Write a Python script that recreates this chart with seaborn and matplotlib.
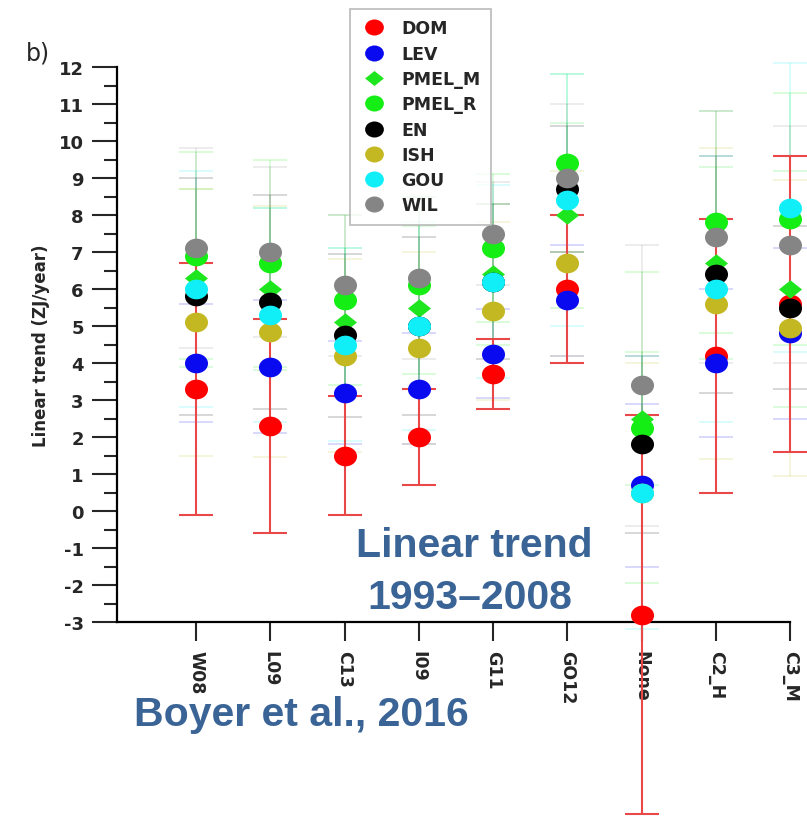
import numpy as np
import pandas as pd
import matplotlib
matplotlib.use("Agg")
import matplotlib.pyplot as plt
import seaborn as sns
from matplotlib.path import Path
from matplotlib.transforms import Affine2D
from matplotlib.lines import Line2D
from matplotlib.ticker import MultipleLocator

categories = ["W08", "L09", "C13", "I09", "G11", "GO12", "None", "C2_H", "C3_M"]
series = ["DOM", "LEV", "PMEL_M", "PMEL_R", "EN", "ISH", "GOU", "WIL"]

dom = [3.3, 2.3, 1.5, 2.0, 3.7, 6.0, -2.8, 4.2, 5.6]
lev = [4.0, 3.9, 3.2, 3.3, 4.25, 5.7, 0.7, 4.0, 4.8]
pmel_m = [6.3, 6.0, 5.1, 5.5, 6.4, 8.0, 2.5, 6.7, 6.0]
pmel_r = [6.9, 6.7, 5.7, 6.1, 7.1, 9.4, 2.25, 7.8, 7.9]
en = [5.8, 5.65, 4.75, 5.0, 6.2, 8.7, 1.8, 6.4, 5.5]
ish = [5.1, 4.85, 4.2, 4.4, 5.4, 6.7, 0.5, 5.6, 4.95]
gou = [6.0, 5.3, 4.5, 5.0, 6.2, 8.4, 0.5, 6.0, 8.2]
wil = [7.1, 7.0, 6.1, 6.3, 7.5, 9.0, 3.4, 7.4, 7.2]

dom_err = [3.4, 2.9, 1.6, 1.3, 0.95, 2.0, 5.4, 3.7, 4.0]
lev_err = [1.6, 1.8, 1.4, 1.5, 1.2, 1.5, 2.2, 2.0, 2.3]
pmel_m_err = [2.4, 2.2, 2.0, 2.2, 1.9, 2.5, 1.8, 2.6, 3.2]
pmel_r_err = [2.8, 2.8, 2.3, 2.4, 2.0, 2.4, 4.2, 3.0, 3.4]
en_err = [3.2, 2.9, 2.2, 2.4, 2.1, 1.7, 2.4, 3.2, 2.2]
ish_err = [3.6, 3.4, 2.6, 2.6, 2.4, 2.5, 3.5, 4.2, 4.0]
gou_err = [3.2, 2.9, 2.6, 2.8, 2.6, 3.4, 3.7, 3.6, 3.9]
wil_err = [2.7, 2.3, 1.9, 2.2, 1.4, 2.0, 3.8, 3.4, 3.2]

values = [dom, lev, pmel_m, pmel_r, en, ish, gou, wil]
errors = [dom_err, lev_err, pmel_m_err, pmel_r_err, en_err, ish_err, gou_err, wil_err]
colors = ["#ff0000", "#0a0af0", "#1ee61e", "#14ee14", "#000000", "#c4b822", "#10eef8", "#858585"]

rows = []
for s, v, e in zip(series, values, errors):
    for i, c in enumerate(categories):
        rows.append({"series": s, "cat": c, "pos": i, "val": v[i], "err": e[i]})
df = pd.DataFrame(rows)

sns.set_style("ticks")
plt.rcParams["axes.unicode_minus"] = False
plt.rcParams["font.family"] = ["DejaVu Sans"]

ellipse = Path.unit_circle().transformed(Affine2D().scale(1.17, 1.0))
diamond = Path([(0, 1), (1.25, 0), (0, -1), (-1.25, 0), (0, 1)],
               [Path.MOVETO, Path.LINETO, Path.LINETO, Path.LINETO, Path.CLOSEPOLY])
markers = {s: (diamond if s == "PMEL_M" else ellipse) for s in series}

fig = plt.figure(figsize=(8.07, 8.2), dpi=100)
ax = fig.add_axes([117 / 807, 1 - 623 / 820, 673 / 807, 555 / 820])

# error bars
for k, s in enumerate(series):
    d = df[df.series == s]
    if s == "DOM":
        eb = ax.errorbar(d.pos, d.val, yerr=d.err, fmt="none", ecolor="#e84848",
                         elinewidth=1.5, capsize=12, capthick=1.5, zorder=3)
    else:
        eb = ax.errorbar(d.pos, d.val, yerr=d.err, fmt="none", ecolor=colors[k],
                         elinewidth=1.1, capsize=12, capthick=1.1, alpha=0.2, zorder=2)
    for art in eb.get_children():
        art.set_clip_on(False)

# markers
for k, s in enumerate(series):
    d = df[df.series == s]
    sns.scatterplot(data=d, x="pos", y="val", marker=markers[s], s=275,
                    color=colors[k], linewidth=0, ax=ax, zorder=10 + k,
                    clip_on=False, legend=False)

ax.set_xlim(-1.066, 8.0)
ax.set_ylim(-3, 12)
ax.set_xticks(range(len(categories)))
ax.set_xticklabels(categories, rotation=-90, fontsize=12.5, fontweight="bold")
for t in ax.get_xticklabels():
    t.set_va("top")
    t.set_ha("center")
ax.yaxis.set_major_locator(MultipleLocator(1))
ax.yaxis.set_minor_locator(MultipleLocator(0.5))
ax.tick_params(axis="y", which="major", direction="out", length=18, width=1.5,
               labelsize=13, pad=6)
ax.tick_params(axis="y", which="minor", direction="out", length=9.5, width=1.5)
ax.tick_params(axis="x", which="major", direction="out", length=14, width=1.5, pad=6)
for t in ax.get_yticklabels():
    t.set_fontweight("bold")
ax.set_xlabel("")
ax.set_ylabel("Linear trend (ZJ/year)", fontsize=12, fontweight="bold")
ax.yaxis.set_label_coords(-0.10, 0.5)
for sp in ["top", "right"]:
    ax.spines[sp].set_visible(False)
for sp in ["left", "bottom"]:
    ax.spines[sp].set_linewidth(1.6)
    ax.spines[sp].set_color("black")

handles = [Line2D([], [], linestyle="none", marker=markers[s], markersize=13.5,
                  markerfacecolor=colors[k], markeredgewidth=0)
           for k, s in enumerate(series)]
leg = ax.legend(handles, series, loc="upper left",
                bbox_to_anchor=(350 / 807, 1 - 10 / 820), bbox_transform=fig.transFigure,
                frameon=True, fancybox=False, borderaxespad=0, borderpad=0.6,
                labelspacing=0.42, handlelength=1.6, handletextpad=0.75,
                prop={"weight": "bold", "size": 12.5})
leg.get_frame().set_edgecolor("#b0b0b0")
leg.get_frame().set_linewidth(1.3)
leg.set_zorder(30)

fig.text(38 / 807, 1 - 53 / 820, "b)", fontsize=17, ha="center", va="center")

blue = "#3b6496"
fnt = dict(family=["Liberation Sans", "DejaVu Sans"], fontweight="bold", fontsize=29.5, color=blue)
fig.text(474 / 807, 1 - 546 / 820, "Linear trend", ha="center", va="center", **fnt)
fig.text(470 / 807, 1 - 598 / 820, "1993\u20132008", ha="center", va="center", **fnt)
fig.text(134 / 807, 1 - 715 / 820, "Boyer et al., 2016", ha="left", va="center", **fnt)

fig.savefig("out.png", dpi=100)
